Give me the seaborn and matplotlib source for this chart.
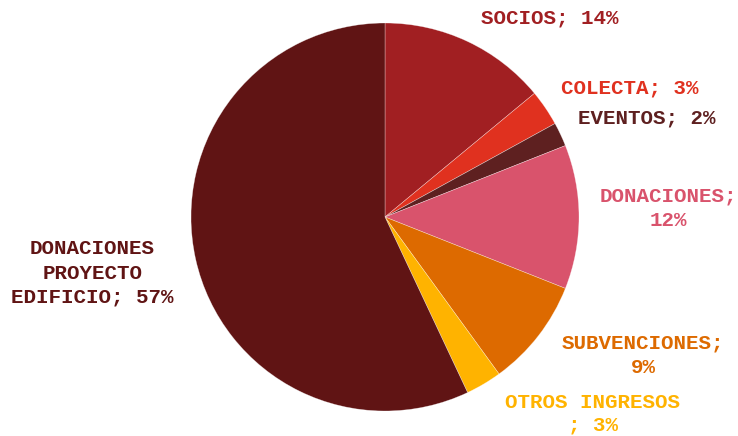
import matplotlib
matplotlib.use("Agg")
import matplotlib.pyplot as plt
import seaborn as sns

sns.set_theme(style="white")
plt.rcParams['font.family'] = ['Liberation Mono', 'DejaVu Sans Mono']

categories = ["SOCIOS", "COLECTA", "EVENTOS", "DONACIONES", "SUBVENCIONES",
              "OTROS INGRESOS", "DONACIONES PROYECTO EDIFICIO"]
values = [14, 3, 2, 12, 9, 3, 57]
label_texts = ["SOCIOS; 14%", "COLECTA; 3%", "EVENTOS; 2%", "DONACIONES;\n12%",
               "SUBVENCIONES;\n9%", "OTROS INGRESOS\n; 3%",
               "DONACIONES\nPROYECTO\nEDIFICIO; 57%"]
colors = ["#A11F22", "#E0311F", "#5E2020", "#D9536C", "#DD6A00", "#FFB300", "#601414"]
label_pos = [(0.85, 1.026), (1.263, 0.665), (1.351, 0.51), (1.459, 0.044),
             (1.33, -0.711), (1.072, -1.015), (-1.508, -0.289)]

W, H = 738, 436
fig = plt.figure(figsize=(W / 100, H / 100), dpi=100)
cx, cy, r = 385, 217, 194
ax = fig.add_axes([(cx - r) / W, (H - cy - r) / H, 2 * r / W, 2 * r / H])
ax.pie(values, colors=colors, startangle=90, counterclock=False,
       wedgeprops=dict(linewidth=0.4, edgecolor=(1, 1, 1, 0.5)))
ax.set_xlim(-1, 1)
ax.set_ylim(-1, 1)
ax.set_aspect("equal")
ax.axis("off")

for i, (txt, (x, y), c) in enumerate(zip(label_texts, label_pos, colors)):
    ax.text(x, y, txt, color=c, fontsize=15, fontweight="bold",
            ha="center", va="center", multialignment="center",
            linespacing=1.25 if i == 5 else 1.35, clip_on=False)

fig.savefig("out.png", dpi=100)
